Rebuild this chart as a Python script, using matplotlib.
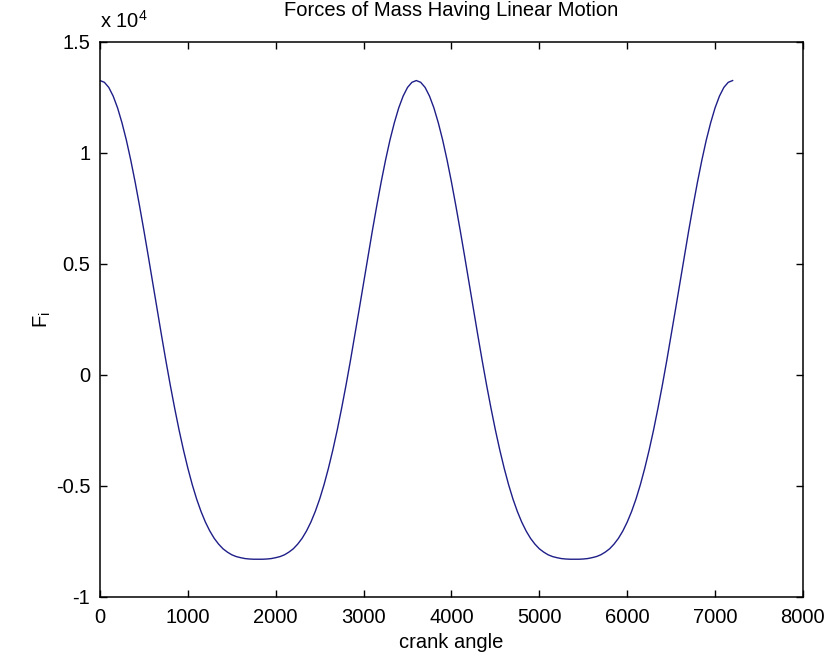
import numpy as np
import matplotlib
matplotlib.use("Agg")
import matplotlib.pyplot as plt
from matplotlib.ticker import FuncFormatter

plt.rcParams['font.family'] = ['Liberation Sans', 'DejaVu Sans']

# crank angle (step 50) and inertia force
crank_angle = np.arange(0, 7201, 50)
force = np.array([
    13260, 13180, 12950, 12560, 12030, 11360, 10580, 9680, 8690, 7620,
    6500, 5340, 4150, 2960, 1790, 640, -460, -1500, -2480, -3380,
    -4200, -4940, -5590, -6150, -6630, -7030, -7360, -7620, -7830, -7980,
    -8100, -8180, -8230, -8270, -8290, -8300, -8300,
    -8300, -8290, -8270, -8230, -8180, -8100, -7980, -7830, -7620, -7360,
    -7030, -6630, -6150, -5590, -4940, -4200, -3380, -2480, -1500, -460,
    640, 1790, 2960, 4150, 5340, 6500, 7620, 8690, 9680, 10580,
    11360, 12030, 12560, 12950, 13180, 13260,
    13180, 12950, 12560, 12030, 11360, 10580, 9680, 8690, 7620,
    6500, 5340, 4150, 2960, 1790, 640, -460, -1500, -2480, -3380,
    -4200, -4940, -5590, -6150, -6630, -7030, -7360, -7620, -7830, -7980,
    -8100, -8180, -8230, -8270, -8290, -8300, -8300,
    -8300, -8290, -8270, -8230, -8180, -8100, -7980, -7830, -7620, -7360,
    -7030, -6630, -6150, -5590, -4940, -4200, -3380, -2480, -1500, -460,
    640, 1790, 2960, 4150, 5340, 6500, 7620, 8690, 9680, 10580,
    11360, 12030, 12560, 12950, 13180, 13260,
])

x_ticks = np.arange(0, 8001, 1000)
y_ticks = np.arange(-10000, 15001, 5000)

fig = plt.figure(figsize=(8.27, 6.6), dpi=100)
ax = fig.add_axes([0.1209, 0.0955, 0.850, 0.841])

ax.plot(crank_angle, force, color='#1e1e88', lw=1.0)

ax.set_xlim(0, 8000)
ax.set_ylim(-10000, 15000)
ax.set_xticks(x_ticks)
ax.set_yticks(y_ticks)
ax.yaxis.set_major_formatter(FuncFormatter(lambda v, p: '%g' % (v / 1e4)))

ax.tick_params(direction='in', length=5, width=1, top=True, right=True,
               labelsize=14.5)
ax.tick_params(axis='x', pad=8)
ax.tick_params(axis='y', pad=7)
for s in ax.spines.values():
    s.set_linewidth(1.1)

ax.set_title("Forces of Mass Having Linear Motion", fontsize=14.5, pad=19)
ax.set_xlabel("crank angle", fontsize=14.5, labelpad=4)
ax.set_ylabel("F$_{\\mathregular{i}}$", fontsize=14.5, labelpad=2)
ax.text(0.0, 1.018, "x 10$^{\\mathregular{4}}$", transform=ax.transAxes,
        fontsize=14.5, ha='left', va='bottom')

fig.savefig("out.png", dpi=100, facecolor='white')
